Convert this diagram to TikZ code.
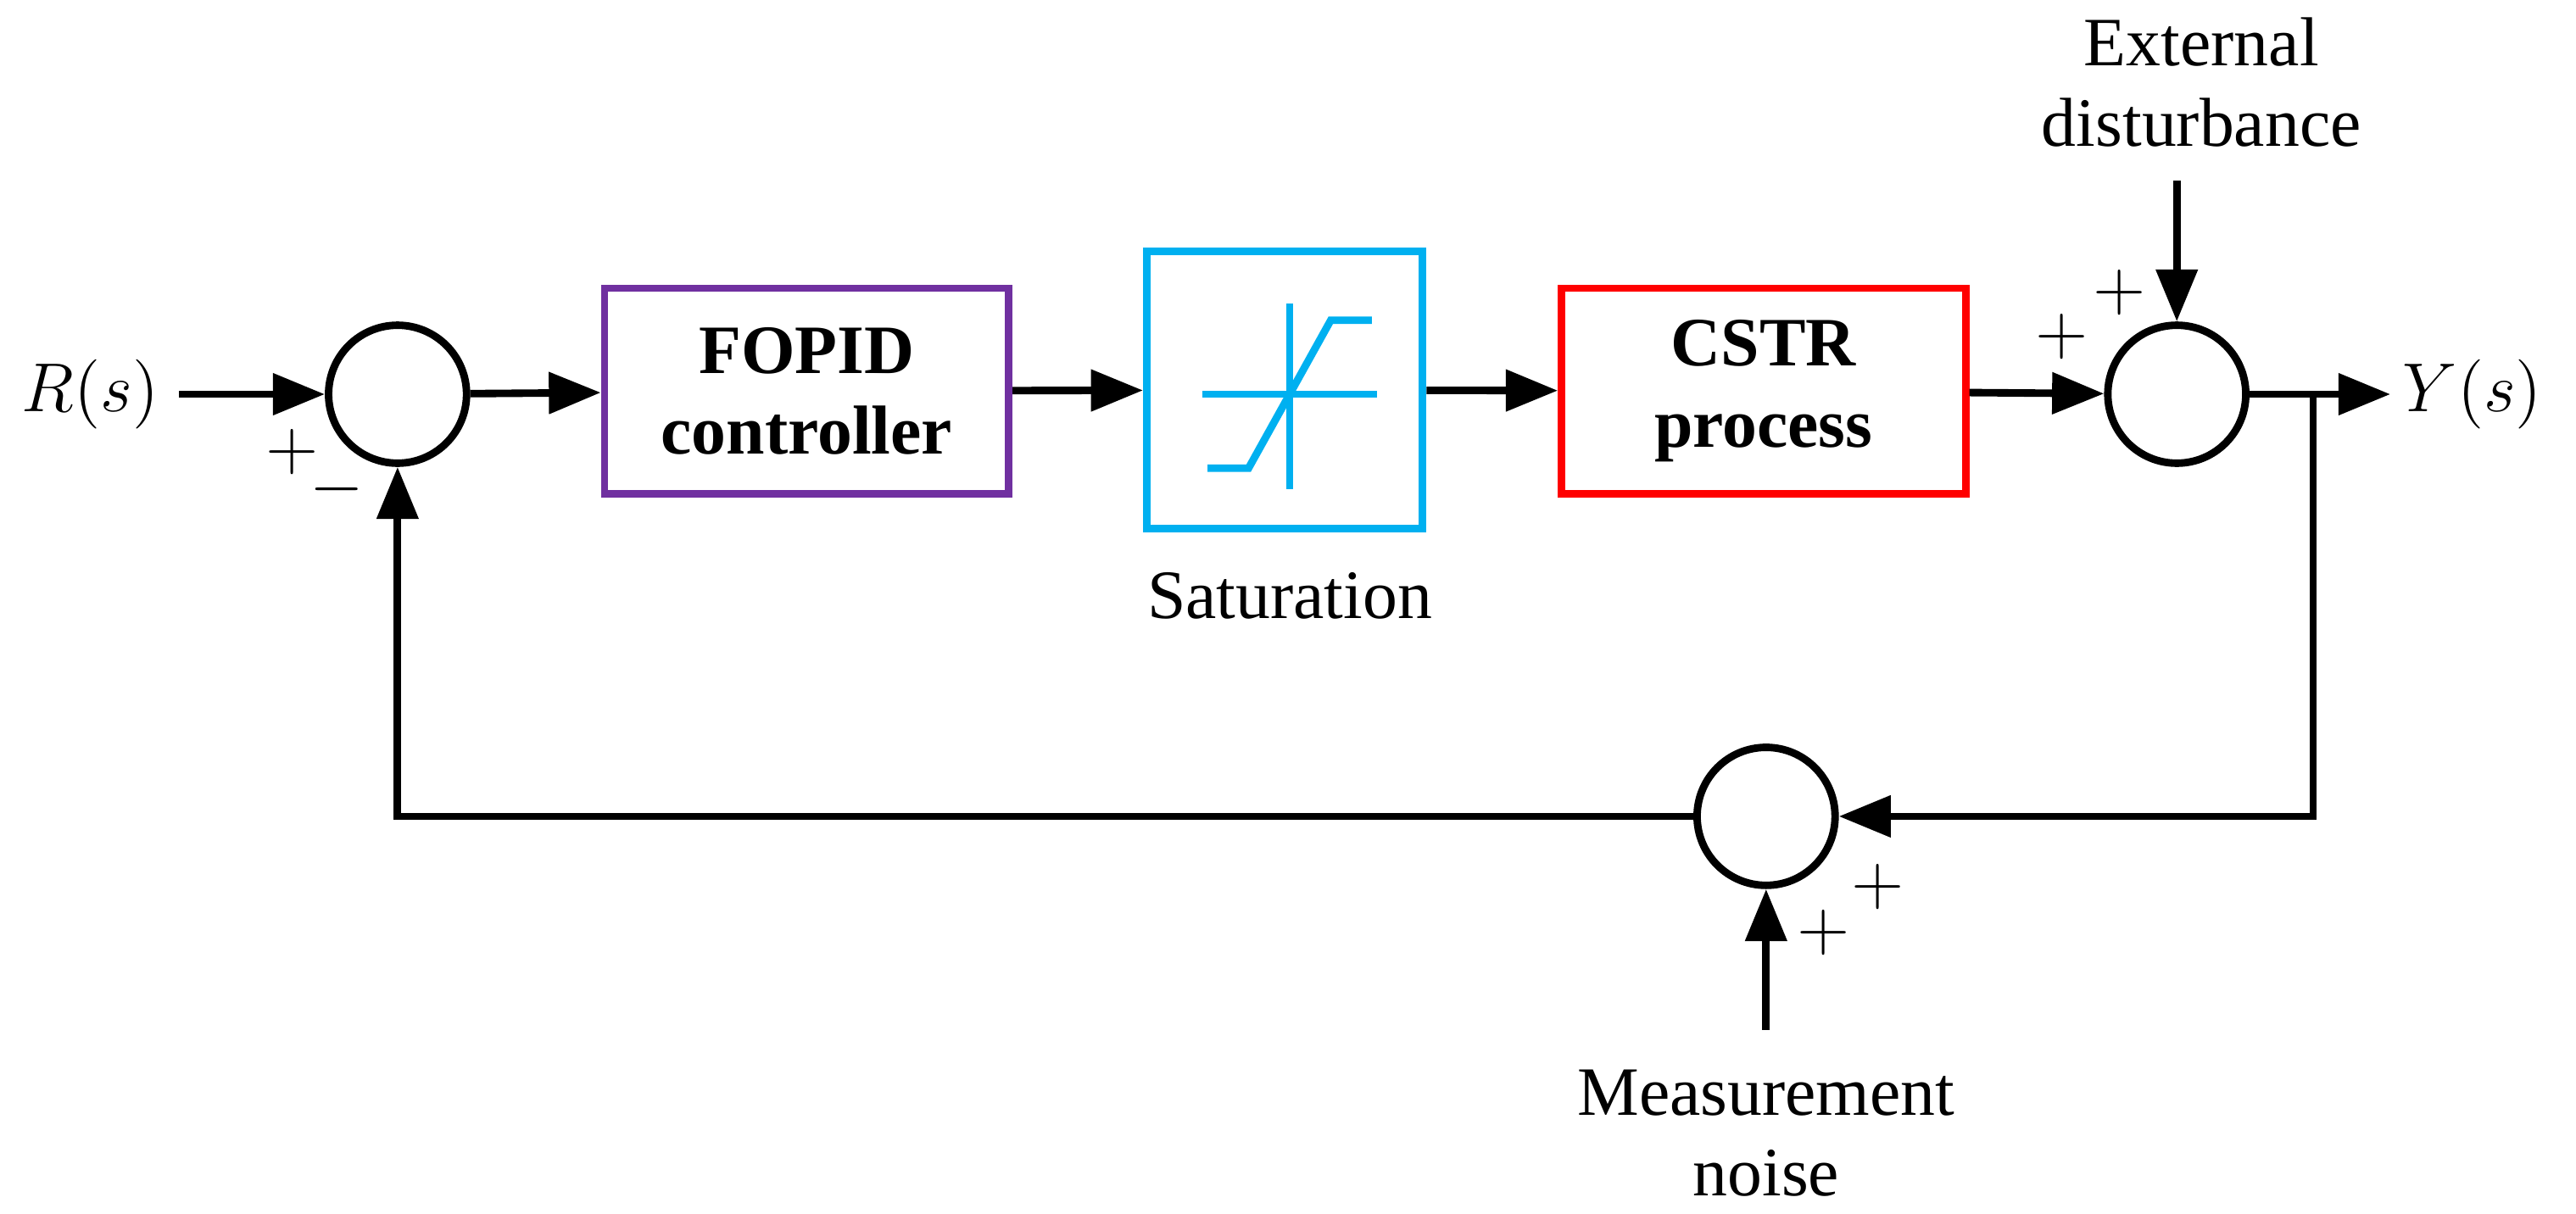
\documentclass[tikz,border=0pt]{standalone}
\usepackage{fontspec}
\setmainfont{Liberation Serif}
\usepackage{amsmath}
\usetikzlibrary{arrows.meta,positioning}
\tikzset{
  sig/.style={line width=1.3pt,-{Triangle[length=9pt,width=7pt]}},
  summer/.style={circle,draw,line width=1.3pt,minimum size=0.84cm,inner sep=0pt},
  blk/.style={rectangle,draw,line width=1.3pt,minimum width=2.46cm,minimum height=1.25cm,align=center,font=\fontsize{12}{14}\selectfont\bfseries},
  lbl/.style={font=\fontsize{12}{14}\selectfont,align=center},
  sgn/.style={font=\fontsize{12}{12}\selectfont,inner sep=0pt}
}
\begin{document}
\begin{tikzpicture}[x=1cm,y=1cm]
       \useasboundingbox (0,0) rectangle (15.68,-7.39);
       % blocks
       \node[lbl] (ref) at (0.55,-2.40) {$R(s)$};
       \node[summer] (s1) at (2.42,-2.40) {};
       \node[blk,draw={rgb,255:red,112;green,48;blue,160}] (pid) at (4.91,-2.38) {FOPID\\controller};
       \node[rectangle,draw={rgb,255:red,0;green,176;blue,240},line width=1.3pt,minimum width=1.68cm,minimum height=1.69cm] (sat) at (7.82,-2.375) {};
       \node[lbl] (satl) at (7.85,-3.63) {Saturation};
       \node[blk,draw=red] (cstr) at (10.735,-2.38) {CSTR\\process};
       \node[summer] (s2) at (13.25,-2.40) {};
       \node[lbl] (out) at (15.05,-2.40) {$Y(s)$};
       \node[summer] (s3) at (10.75,-4.97) {};
       \node[lbl] (dist) at (13.40,-0.50) {External\\disturbance};
       \node[lbl] (noise) at (10.75,-6.90) {Measurement\\noise};
       \coordinate (br) at (14.08,-2.40);
       \coordinate (outend) at (14.55,-2.40);
       \coordinate (dtop) at (13.25,-1.10);
       \coordinate (nbot) at (10.75,-6.27);
       % saturation symbol
       \begin{scope}[draw={rgb,255:red,0;green,176;blue,240},line width=1.3pt]
         \draw (7.32,-2.40) -- (8.38,-2.40);
         \draw (7.85,-1.85) -- (7.85,-2.98);
         \draw (7.35,-2.85) -- (7.60,-2.85) -- (8.10,-1.95) -- (8.35,-1.95);
       \end{scope}
       % connectors
       \draw[sig] (ref) -- (s1);
       \draw[sig] (s1) -- (pid);
       \draw[sig] (pid) -- (sat);
       \draw[sig] (sat) -- (cstr);
       \draw[sig] (cstr) -- (s2);
       \draw[sig] (s2) -- (outend);
       \draw[sig] (dtop) -- (s2);
       \draw[sig] (br) |- (s3);
       \draw[sig] (s3) -| (s1);
       \draw[sig] (nbot) -- (s3);
       % signs
       \node[sgn] (p1) at (1.78,-2.75) {$+$};
       \node[sgn] (m1) at (2.05,-2.98) {$-$};
       \node[sgn] (p2) at (12.55,-2.05) {$+$};
       \node[sgn] (p3) at (12.90,-1.78) {$+$};
       \node[sgn] (p4) at (11.10,-5.68) {$+$};
       \node[sgn] (p5) at (11.43,-5.40) {$+$};
\end{tikzpicture}
\end{document}
